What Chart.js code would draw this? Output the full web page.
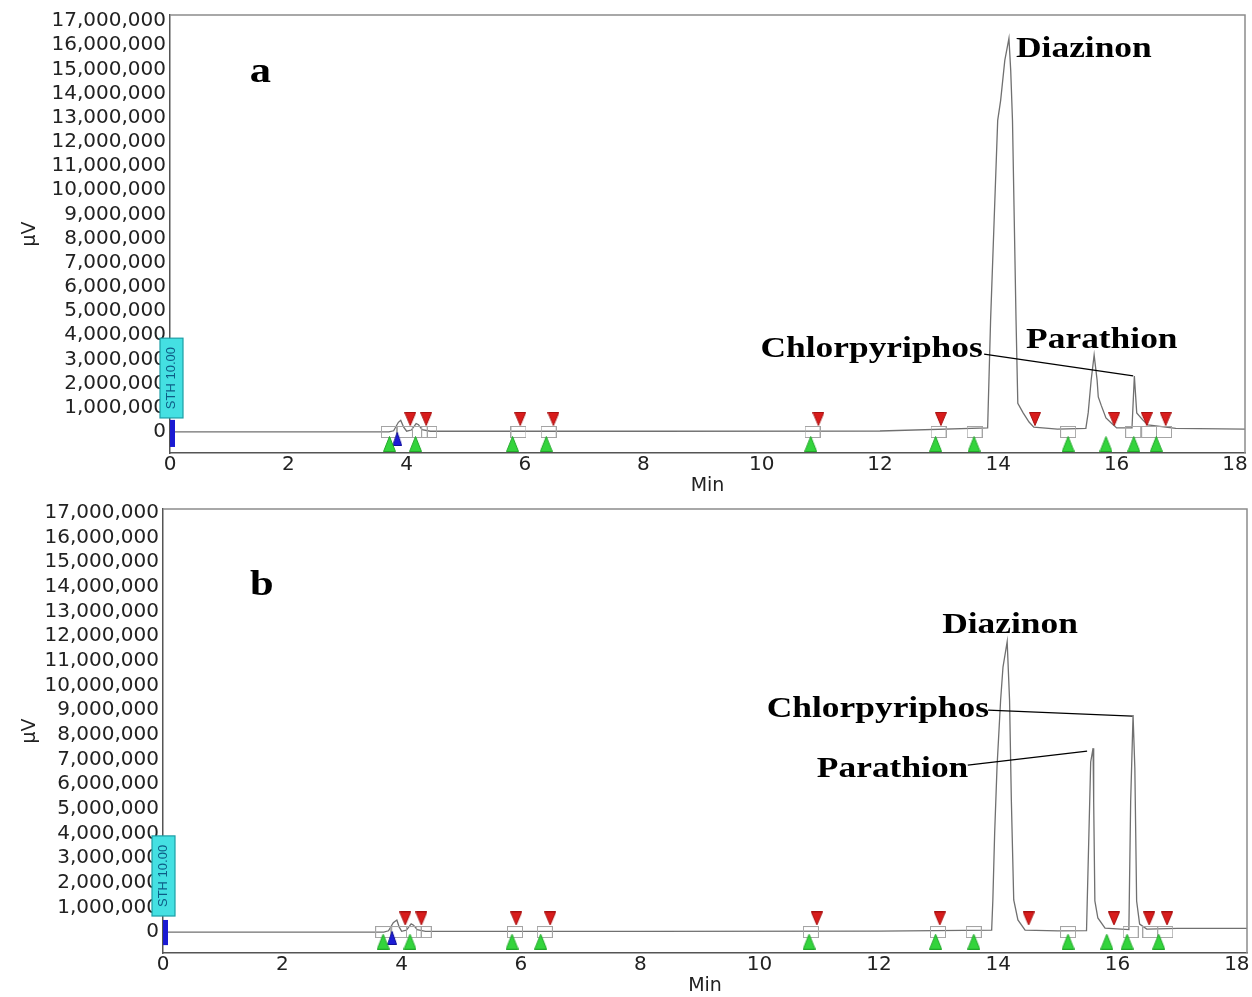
<!DOCTYPE html>
<html lang="en">
<head>
  <meta charset="UTF-8">
  <title>GC Chromatograms a / b</title>
  <script src="https://cdn.jsdelivr.net/npm/chart.js"></script>
  <style>
    body { margin: 0; background: #fff; }
    .panel { position: absolute; left: 0; }
  </style>
</head>
<body>
  <div class="panel" style="top:0"><canvas id="chartA" width="1252" height="497"></canvas></div>
  <div class="panel" style="top:497px"><canvas id="chartB" width="1252" height="500"></canvas></div>

  <script>
    // axis ticks
    const xTicks = [0, 2, 4, 6, 8, 10, 12, 14, 16, 18];
    const yTicks = [0, 1e6, 2e6, 3e6, 4e6, 5e6, 6e6, 7e6, 8e6, 9e6, 10e6,
                    11e6, 12e6, 13e6, 14e6, 15e6, 16e6, 17e6];

    // panel a trace (min, µV)
    const timeA = [0, 3.7, 3.78, 3.86, 3.9, 3.95, 4.0, 4.08, 4.16, 4.2, 4.26, 4.4, 8.0, 12.0, 13.82,
      13.87, 13.93, 13.99, 14.04, 14.11, 14.18, 14.21, 14.24, 14.27, 14.30, 14.33, 14.42, 14.52, 14.6,
      15.0, 15.48, 15.52, 15.57, 15.62, 15.67, 15.69, 15.74, 15.82, 15.91, 16.0, 16.26, 16.30, 16.34,
      16.44, 16.53, 17.0, 18.17];
    const signalA = [0, 0, 50000, 400000, 480000, 200000, 30000, 80000, 350000, 300000, 100000, 30000, 30000, 40000, 170000,
      4630000, 8760000, 12890000, 13720000, 15370000, 16280000, 14960000, 12890000, 8760000, 4630000, 1190000, 790000, 410000, 200000,
      120000, 150000, 800000, 2150000, 3180000, 2150000, 1450000, 1100000, 580000, 370000, 170000, 170000, 2310000, 790000,
      500000, 290000, 150000, 120000];

    // panel b trace (min, µV)
    const timeB = [0, 3.7, 3.78, 3.86, 3.92, 3.96, 4.0, 4.08, 4.16, 4.2, 4.26, 4.4, 8.0, 12.0, 13.89,
      13.91, 13.94, 13.98, 14.04, 14.08, 14.15, 14.19, 14.22, 14.26, 14.33, 14.45,
      15.0, 15.48, 15.52, 15.55, 15.59, 15.60, 15.62, 15.67, 15.79, 16.19,
      16.22, 16.26, 16.29, 16.32, 16.37, 16.49, 17.0, 18.17];
    const signalB = [0, 0, 50000, 380000, 490000, 200000, 30000, 80000, 330000, 280000, 100000, 30000, 30000, 40000, 80000,
      1300000, 4000000, 6700000, 9400000, 10750000, 11780000, 9400000, 5350000, 1300000, 490000, 80000,
      50000, 60000, 3980000, 6900000, 7460000, 5300000, 1260000, 570000, 160000, 100000,
      5300000, 8800000, 6650000, 1260000, 320000, 120000, 150000, 150000];

    // integration event markers (retention time, min)
    const peakEndA = [4.06, 4.33, 5.92, 6.48, 10.96, 13.03, 14.62, 15.96, 16.51, 16.83];
    const peakStartA = [3.71, 4.15, 5.79, 6.36, 10.83, 12.94, 13.59, 15.18, 15.82, 16.29, 16.67];
    const splitA = [3.84];
    const boxA = [3.7, 3.97, 4.22, 4.38, 5.89, 6.4, 10.86, 12.99, 13.6, 15.18, 16.28, 16.55, 16.8];

    const peakEndB = [4.06, 4.33, 5.92, 6.49, 10.96, 13.02, 14.51, 15.94, 16.53, 16.83];
    const peakStartB = [3.69, 4.14, 5.85, 6.33, 10.83, 12.95, 13.59, 15.17, 15.82, 16.16, 16.69];
    const splitB = [3.84];
    const boxB = [3.69, 3.96, 4.2, 4.37, 5.9, 6.4, 10.86, 12.99, 13.59, 15.17, 16.22, 16.55, 16.8];

    const pairs = (xs, ys) => xs.map((x, i) => ({ x, y: ys[i] }));
    const level = (xs, v) => xs.map(x => ({ x, y: v }));

    // little marker images
    function triangle(w, h, fill, edge, down) {
      const c = document.createElement('canvas');
      c.width = w; c.height = h;
      const g = c.getContext('2d');
      g.beginPath();
      if (down) { g.moveTo(0.5, 0.5); g.lineTo(w - 0.5, 0.5); g.lineTo(w / 2, h - 0.5); }
      else { g.moveTo(w / 2, 0.5); g.lineTo(w - 0.5, h - 0.5); g.lineTo(0.5, h - 0.5); }
      g.closePath();
      g.fillStyle = fill; g.fill();
      g.strokeStyle = edge; g.lineWidth = 1; g.stroke();
      return c;
    }
    function openRect(w, h) {
      const c = document.createElement('canvas');
      c.width = w; c.height = h;
      const g = c.getContext('2d');
      g.strokeStyle = '#a4a4a4'; g.lineWidth = 1;
      g.strokeRect(0.5, 0.5, w - 1, h - 1);
      return c;
    }
    const redMark = triangle(12, 14, '#d81c1c', '#a81010', true);
    const greenMark = triangle(13, 16, '#33d43c', '#20a828', false);
    const blueMark = triangle(10, 14, '#1c1cd6', '#10109a', false);
    const boxMark = openRect(16, 12);

    const chromPlugin = {
      id: 'chrom',
      afterDraw(chart, args, opts) {
        const { ctx, chartArea: a, scales: { x, y } } = chart;
        ctx.save();

        // top + right frame
        ctx.strokeStyle = '#8c8c8c';
        ctx.lineWidth = 1.5;
        ctx.beginPath();
        ctx.moveTo(a.left, a.top);
        ctx.lineTo(a.right, a.top);
        ctx.lineTo(a.right, a.bottom);
        ctx.stroke();

        const x0 = x.getPixelForValue(0);

        // injection bar
        ctx.fillStyle = '#1a1ad2';
        const b1 = y.getPixelForValue(opts.bar[1]), b0 = y.getPixelForValue(opts.bar[0]);
        ctx.fillRect(x0, b1, 5, b0 - b1);

        // STH box
        const s1 = y.getPixelForValue(opts.sth[1]), s0 = y.getPixelForValue(opts.sth[0]);
        ctx.fillStyle = '#44e0e2';
        ctx.strokeStyle = '#1c9ea6';
        ctx.lineWidth = 1.2;
        ctx.fillRect(x0 + opts.sthDx, s1, 23, s0 - s1);
        ctx.strokeRect(x0 + opts.sthDx, s1, 23, s0 - s1);
        ctx.save();
        ctx.translate(x0 + opts.sthDx + 11.5, (s0 + s1) / 2);
        ctx.rotate(-Math.PI / 2);
        ctx.fillStyle = '#0d5c86';
        ctx.font = '13px "Liberation Sans", Arial, sans-serif';
        ctx.textAlign = 'center';
        ctx.textBaseline = 'middle';
        ctx.fillText('STH 10.00', 0, 0);
        ctx.restore();

        // leader lines
        ctx.strokeStyle = '#000';
        ctx.lineWidth = 1.3;
        opts.leaders.forEach(l => {
          ctx.beginPath();
          ctx.moveTo(x.getPixelForValue(l[0]), y.getPixelForValue(l[1]));
          ctx.lineTo(x.getPixelForValue(l[2]), y.getPixelForValue(l[3]));
          ctx.stroke();
        });

        // text labels (serif bold, slightly stretched like the scan)
        ctx.fillStyle = '#000';
        ctx.textAlign = 'left';
        ctx.textBaseline = 'alphabetic';
        opts.labels.forEach(l => {
          ctx.save();
          ctx.translate(x.getPixelForValue(l.t), y.getPixelForValue(l.v));
          ctx.scale(1.18, 1);
          ctx.font = 'bold ' + l.size + 'px "Liberation Serif", "Times New Roman", serif';
          ctx.fillText(l.text, 0, 0);
          ctx.restore();
        });

        ctx.restore();
      }
    };

    function makeChart(id, trace, ends, starts, splits, boxes, cfg) {
      const tickFont = { family: '"DejaVu Sans", sans-serif', size: 20 };
      return new Chart(document.getElementById(id), {
        type: 'scatter',
        data: {
          datasets: [
            { data: trace, showLine: true, pointRadius: 0, borderColor: '#707070', borderWidth: 1.3,
              tension: 0, order: 5 },
            { data: level(boxes, 0), pointStyle: boxMark, order: 4 },
            { data: level(ends, cfg.redLevel), pointStyle: redMark, order: 1 },
            { data: level(starts, cfg.greenLevel), pointStyle: greenMark, order: 1 },
            { data: level(splits, cfg.blueLevel), pointStyle: blueMark, order: 1 }
          ]
        },
        options: {
          responsive: false,
          animation: false,
          layout: { padding: { left: 0, right: cfg.padRight, top: cfg.padTop, bottom: 0 } },
          plugins: {
            legend: { display: false },
            tooltip: { enabled: false },
            chrom: cfg.plugin
          },
          scales: {
            x: {
              type: 'linear',
              min: 0,
              max: 18.17,
              afterBuildTicks: s => { s.ticks = xTicks.map(v => ({ value: v })); },
              afterFit: s => { s.height = 44; s.paddingLeft = 0; s.paddingRight = 0; },
              grid: { display: false, drawTicks: false },
              border: { display: true, color: '#555', width: 1.5 },
              ticks: { font: tickFont, color: '#222', padding: 0, maxRotation: 0, autoSkip: false },
              title: { display: true, text: 'Min', font: { family: '"DejaVu Sans", sans-serif', size: 19 },
                       color: '#222', padding: 0 }
            },
            y: {
              min: cfg.yMin,
              max: cfg.yMax,
              afterBuildTicks: s => { s.ticks = yTicks.map(v => ({ value: v })); },
              afterFit: s => { s.width = cfg.yWidth; s.paddingTop = 0; s.paddingBottom = 0; },
              grid: { display: false, drawTicks: false },
              border: { display: true, color: '#555', width: 1.5 },
              ticks: { font: tickFont, color: '#222', padding: 4, autoSkip: false,
                       callback: v => v.toLocaleString('en-US') },
              title: { display: true, text: 'µV', font: { family: '"DejaVu Sans", sans-serif', size: 19 },
                       color: '#222', padding: { top: 19, bottom: 0 } }
            }
          }
        },
        plugins: [chromPlugin]
      });
    }

    makeChart('chartA', pairs(timeA, signalA), peakEndA, peakStartA, splitA, boxA, {
      yMin: -870000, yMax: 17250000, yWidth: 170, padRight: 7, padTop: 15,
      redLevel: 540000, greenLevel: -500000, blueLevel: -290000,
      plugin: {
        bar: [-620000, 500000],
        sth: [580000, 3880000],
        sthDx: -10,
        leaders: [[13.76, 3220000, 16.28, 2320000]],
        labels: [
          { text: 'a', t: 1.35, v: 14460000, size: 36 },
          { text: 'Diazinon', t: 14.30, v: 15500000, size: 30 },
          { text: 'Parathion', t: 14.47, v: 3470000, size: 30 },
          { text: 'Chlorpyriphos', t: 9.98, v: 3100000, size: 30 }
        ]
      }
    });

    makeChart('chartB', pairs(timeB, signalB), peakEndB, peakStartB, splitB, boxB, {
      yMin: -850000, yMax: 17160000, yWidth: 163, padRight: 5, padTop: 12,
      redLevel: 550000, greenLevel: -390000, blueLevel: -240000,
      plugin: {
        bar: [-530000, 490000],
        sth: [650000, 3900000],
        sthDx: -11,
        leaders: [[13.83, 9000000, 16.25, 8760000], [13.49, 6770000, 15.49, 7340000]],
        labels: [
          { text: 'b', t: 1.46, v: 13670000, size: 36 },
          { text: 'Diazinon', t: 13.06, v: 12130000, size: 30 },
          { text: 'Chlorpyriphos', t: 10.12, v: 8720000, size: 30 },
          { text: 'Parathion', t: 10.96, v: 6290000, size: 30 }
        ]
      }
    });
  </script>
</body>
</html>
